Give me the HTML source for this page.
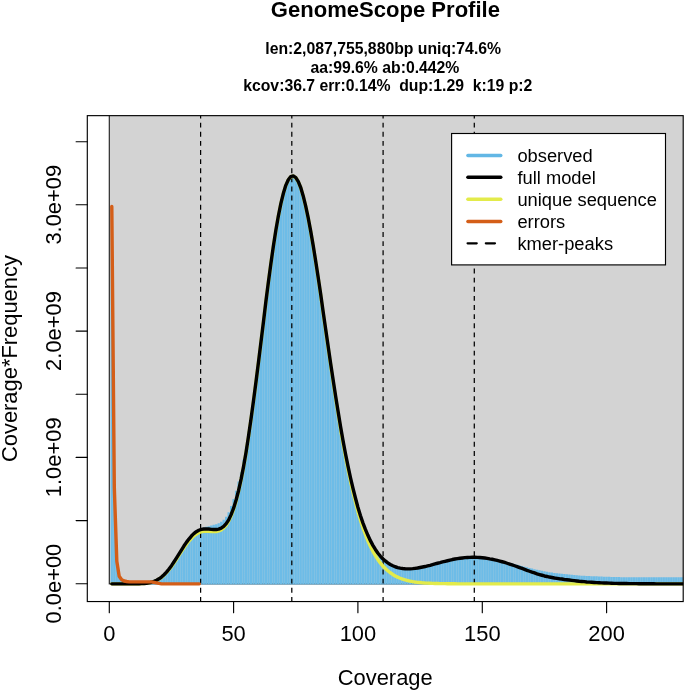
<!DOCTYPE html>
<html lang="en"><head><meta charset="utf-8"><title>GenomeScope Profile</title>
<style>
html,body{margin:0;padding:0;background:#fff;}
svg{display:block;font-family:"Liberation Sans", Arial, Helvetica, sans-serif;}
text{fill:#000;}
.t{font-size:21.9px;}
.h{font-size:22.05px;font-weight:bold;}
.s{font-size:15.78px;font-weight:bold;}
.l{font-size:18.32px;}
</style></head><body>
<svg width="685" height="691" viewBox="0 0 685 691">
<rect x="0" y="0" width="685" height="691" fill="#fff"/>
<defs><clipPath id="c"><rect x="87.3" y="115.65" width="595.9000000000001" height="485.9"/></clipPath></defs>
<g clip-path="url(#c)"><g transform="translate(0,0.25)">
<rect x="109.3" y="0" width="700" height="583.6" fill="#D3D3D3" stroke="#222" stroke-width="1.14"/>
<path d="M111.79,584.2V206.3M114.27,584.2V487.0M116.76,584.2V561.0M119.25,584.2V576.0M121.73,584.2V579.5M124.22,584.2V580.8M126.71,584.2V581.3M129.19,584.2V581.6M131.68,584.2V581.6M134.16,584.2V581.6M136.65,584.2V581.5M139.14,584.2V581.5M141.62,584.2V581.4M144.11,584.2V581.2M146.60,584.2V581.0M149.08,584.2V580.6M151.57,584.2V580.0M154.06,584.2V579.6M156.54,584.2V579.0M159.03,584.2V578.1M161.52,584.2V576.8M164.00,584.2V574.5M166.49,584.2V571.9M168.98,584.2V568.8M171.46,584.2V565.4M173.95,584.2V561.7M176.44,584.2V557.8M178.92,584.2V553.8M181.41,584.2V549.8M183.89,584.2V545.8M186.38,584.2V542.1M188.87,584.2V538.8M191.35,584.2V535.8M193.84,584.2V533.4M196.33,584.2V531.4M198.81,584.2V530.0M201.30,584.2V528.1M203.79,584.2V527.3M206.27,584.2V526.6M208.76,584.2V525.9M211.25,584.2V525.3M213.73,584.2V524.6M216.22,584.2V523.9M218.71,584.2V522.9M221.19,584.2V521.4M223.68,584.2V519.4M226.17,584.2V516.6M228.65,584.2V511.9M231.14,584.2V505.7M233.62,584.2V498.8M236.11,584.2V490.6M238.60,584.2V481.2M241.08,584.2V471.9M243.57,584.2V459.6M246.06,584.2V445.4M248.54,584.2V431.3M251.03,584.2V418.8M253.52,584.2V400.6M256.00,584.2V381.5M258.49,584.2V361.7M260.98,584.2V341.5M263.46,584.2V321.3M265.95,584.2V301.2M268.44,584.2V281.8M270.92,584.2V263.2M273.41,584.2V245.8M275.90,584.2V229.8M278.38,584.2V215.5M280.87,584.2V203.2M283.36,584.2V193.0M285.84,584.2V185.1M288.33,584.2V179.5M290.81,584.2V176.3M293.30,584.2V175.6M295.79,584.2V177.3M298.27,584.2V181.3M300.76,584.2V187.5M303.25,584.2V195.7M305.73,584.2V205.9M308.22,584.2V217.7M310.71,584.2V230.9M313.19,584.2V245.4M315.68,584.2V260.9M318.17,584.2V277.2M320.65,584.2V294.1M323.14,584.2V311.2M325.63,584.2V328.6M328.11,584.2V345.8M330.60,584.2V362.9M333.08,584.2V379.5M335.57,584.2V395.7M338.06,584.2V411.3M340.54,584.2V426.1M343.03,584.2V440.2M345.52,584.2V453.5M348.00,584.2V465.9M350.49,584.2V477.5M352.98,584.2V488.2M355.46,584.2V498.0M357.95,584.2V507.0M360.44,584.2V515.2M362.92,584.2V522.6M365.41,584.2V529.2M367.90,584.2V535.1M370.38,584.2V540.4M372.87,584.2V545.1M375.36,584.2V549.2M377.84,584.2V552.7M380.33,584.2V555.8M382.81,584.2V558.5M385.30,584.2V560.7M387.79,584.2V562.6M390.27,584.2V564.2M392.76,584.2V565.5M395.25,584.2V566.5M397.73,584.2V567.3M400.22,584.2V567.9M402.71,584.2V568.3M405.19,584.2V568.5M407.68,584.2V568.6M410.17,584.2V568.6M412.65,584.2V568.4M415.14,584.2V568.1M417.63,584.2V567.8M420.11,584.2V567.3M422.60,584.2V566.8M425.09,584.2V566.3M427.57,584.2V565.7M430.06,584.2V565.1M432.55,584.2V564.4M435.03,584.2V563.7M437.52,584.2V563.0M440.00,584.2V562.4M442.49,584.2V561.7M444.98,584.2V561.1M447.46,584.2V560.5M449.95,584.2V559.9M452.44,584.2V559.3M454.92,584.2V558.8M457.41,584.2V558.4M459.90,584.2V558.0M462.38,584.2V557.7M464.87,584.2V557.4M467.36,584.2V557.2M469.84,584.2V557.1M472.33,584.2V557.0M474.82,584.2V557.0M477.30,584.2V557.1M479.79,584.2V557.3M482.27,584.2V557.5M484.76,584.2V557.8M487.25,584.2V558.1M489.73,584.2V558.6M492.22,584.2V559.0M494.71,584.2V559.6M497.19,584.2V560.2M499.68,584.2V560.8M502.17,584.2V561.3M504.65,584.2V561.7M507.14,584.2V562.2M509.63,584.2V562.7M512.11,584.2V563.3M514.60,584.2V563.9M517.09,584.2V564.5M519.57,584.2V565.1M522.06,584.2V565.8M524.55,584.2V566.4M527.03,584.2V567.1M529.52,584.2V567.7M532.00,584.2V568.3M534.49,584.2V568.9M536.98,584.2V569.4M539.46,584.2V569.9M541.95,584.2V570.5M544.44,584.2V571.0M546.92,584.2V571.5M549.41,584.2V572.0M551.90,584.2V572.3M554.38,584.2V572.7M556.87,584.2V573.0M559.36,584.2V573.3M561.84,584.2V573.6M564.33,584.2V573.8M566.82,584.2V574.1M569.30,584.2V574.3M571.79,584.2V574.6M574.28,584.2V574.8M576.76,584.2V575.0M579.25,584.2V575.2M581.74,584.2V575.4M584.22,584.2V575.6M586.71,584.2V575.7M589.19,584.2V575.8M591.68,584.2V576.0M594.17,584.2V576.1M596.65,584.2V576.1M599.14,584.2V576.2M601.63,584.2V576.3M604.11,584.2V576.4M606.60,584.2V576.5M609.09,584.2V576.6M611.57,584.2V576.7M614.06,584.2V576.7M616.55,584.2V576.8M619.03,584.2V576.8M621.52,584.2V576.9M624.01,584.2V576.9M626.49,584.2V576.9M628.98,584.2V577.0M631.46,584.2V577.0M633.95,584.2V577.0M636.44,584.2V577.0M638.92,584.2V577.0M641.41,584.2V577.0M643.90,584.2V577.1M646.38,584.2V577.1M648.87,584.2V577.1M651.36,584.2V577.1M653.84,584.2V577.1M656.33,584.2V577.1M658.82,584.2V577.1M661.30,584.2V577.1M663.79,584.2V577.1M666.28,584.2V577.1M668.76,584.2V577.0M671.25,584.2V577.0M673.74,584.2V577.0M676.22,584.2V577.0M678.71,584.2V577.0M681.19,584.2V577.0M683.68,584.2V577.0M686.17,584.2V577.0M688.65,584.2V577.0M691.14,584.2V577.0M693.63,584.2V577.0" stroke="#6DBCE7" stroke-width="2.3" fill="none"/>
<line x1="200.6" x2="200.6" y1="601.55" y2="112.65" stroke="#000" stroke-width="1.25" stroke-dasharray="4.9 4.22"/>
<line x1="291.8" x2="291.8" y1="601.55" y2="112.65" stroke="#000" stroke-width="1.25" stroke-dasharray="4.9 4.22"/>
<line x1="383.1" x2="383.1" y1="601.55" y2="112.65" stroke="#000" stroke-width="1.25" stroke-dasharray="4.9 4.22"/>
<line x1="474.3" x2="474.3" y1="601.55" y2="112.65" stroke="#000" stroke-width="1.25" stroke-dasharray="4.9 4.22"/>
<path d="M111.8,583.6 L114.3,583.6 L116.8,583.6 L119.2,583.6 L121.7,583.6 L124.2,583.6 L126.7,583.6 L129.2,583.6 L131.7,583.6 L134.2,583.6 L136.7,583.5 L139.1,583.5 L141.6,583.4 L144.1,583.2 L146.6,583.0 L149.1,582.6 L151.6,582.0 L154.1,581.3 L156.5,580.2 L159.0,578.8 L161.5,577.1 L164.0,574.9 L166.5,572.4 L169.0,569.5 L171.5,566.3 L173.9,562.7 L176.4,559.0 L178.9,555.1 L181.4,551.3 L183.9,547.5 L186.4,544.0 L188.9,540.8 L191.4,538.0 L193.8,535.6 L196.3,533.8 L198.8,532.4 L201.3,531.5 L203.8,531.1 L206.3,530.9 L208.8,531.0 L211.2,531.2 L213.7,531.4 L216.2,531.3 L218.7,530.7 L221.2,529.6 L223.7,527.7 L226.2,524.8 L228.7,520.8 L231.1,515.6 L233.6,508.9 L236.1,500.7 L238.6,491.0 L241.1,479.6 L243.6,466.7 L246.1,452.3 L248.5,436.4 L251.0,419.2 L253.5,400.9 L256.0,381.7 L258.5,361.9 L261.0,341.7 L263.5,321.4 L265.9,301.4 L268.4,281.9 L270.9,263.3 L273.4,245.9 L275.9,229.9 L278.4,215.6 L280.9,203.3 L283.4,193.1 L285.8,185.2 L288.3,179.6 L290.8,176.5 L293.3,175.8 L295.8,177.5 L298.3,181.6 L300.8,187.8 L303.2,196.1 L305.7,206.3 L308.2,218.2 L310.7,231.6 L313.2,246.2 L315.7,261.8 L318.2,278.2 L320.7,295.2 L323.1,312.5 L325.6,330.0 L328.1,347.4 L330.6,364.6 L333.1,381.5 L335.6,397.8 L338.1,413.6 L340.5,428.7 L343.0,443.0 L345.5,456.5 L348.0,469.2 L350.5,481.0 L353.0,491.9 L355.5,502.0 L357.9,511.3 L360.4,519.7 L362.9,527.3 L365.4,534.2 L367.9,540.5 L370.4,546.0 L372.9,551.0 L375.4,555.4 L377.8,559.2 L380.3,562.7 L382.8,565.7 L385.3,568.3 L387.8,570.5 L390.3,572.5 L392.8,574.2 L395.2,575.7 L397.7,576.9 L400.2,578.0 L402.7,578.9 L405.2,579.7 L407.7,580.3 L410.2,580.9 L412.7,581.4 L415.1,581.8 L417.6,582.1 L420.1,582.3 L422.6,582.6 L425.1,582.8 L427.6,582.9 L430.1,583.0 L432.5,583.1 L435.0,583.2 L437.5,583.3 L440.0,583.4 L442.5,583.4 L445.0,583.4 L447.5,583.5 L450.0,583.5 L452.4,583.5 L454.9,583.5 L457.4,583.6 L459.9,583.6 L462.4,583.6 L464.9,583.6 L467.4,583.6 L469.8,583.6 L472.3,583.6 L474.8,583.6 L477.3,583.6 L479.8,583.6 L482.3,583.6 L484.8,583.6 L487.2,583.6 L489.7,583.6 L492.2,583.6 L494.7,583.6 L497.2,583.6 L499.7,583.6 L502.2,583.6 L504.7,583.6 L507.1,583.6 L509.6,583.6 L512.1,583.6 L514.6,583.6 L517.1,583.6 L519.6,583.6 L522.1,583.6 L524.5,583.6 L527.0,583.6 L529.5,583.6 L532.0,583.6 L534.5,583.6 L537.0,583.6 L539.5,583.6 L542.0,583.6 L544.4,583.6 L546.9,583.6 L549.4,583.6 L551.9,583.6 L554.4,583.6 L556.9,583.6 L559.4,583.6 L561.8,583.6 L564.3,583.6 L566.8,583.6 L569.3,583.6 L571.8,583.6 L574.3,583.6 L576.8,583.6 L579.2,583.6 L581.7,583.6 L584.2,583.6 L586.7,583.6 L589.2,583.6 L591.7,583.6 L594.2,583.6 L596.7,583.6 L599.1,583.6 L601.6,583.6 L604.1,583.6 L606.6,583.6 L609.1,583.6 L611.6,583.6 L614.1,583.6 L616.5,583.6 L619.0,583.6 L621.5,583.6 L624.0,583.6 L626.5,583.6 L629.0,583.6 L631.5,583.6 L634.0,583.6 L636.4,583.6 L638.9,583.6 L641.4,583.6 L643.9,583.6 L646.4,583.6 L648.9,583.6 L651.4,583.6 L653.8,583.6 L656.3,583.6 L658.8,583.6 L661.3,583.6 L663.8,583.6 L666.3,583.6 L668.8,583.6 L671.2,583.6 L673.7,583.6 L676.2,583.6 L678.7,583.6 L681.2,583.6 L683.7,583.6 L686.2,583.6 L688.7,583.6 L691.1,583.6 L693.6,583.6" stroke="#E3EB4A" stroke-width="3.42" fill="none" stroke-linejoin="round" stroke-linecap="round"/>
<path d="M111.8,583.6 L114.3,583.6 L116.8,583.6 L119.2,583.6 L121.7,583.6 L124.2,583.6 L126.7,583.6 L129.2,583.6 L131.7,583.6 L134.2,583.6 L136.7,583.5 L139.1,583.5 L141.6,583.4 L144.1,583.2 L146.6,583.0 L149.1,582.6 L151.6,582.0 L154.1,581.1 L156.5,580.0 L159.0,578.6 L161.5,576.8 L164.0,574.5 L166.5,571.9 L169.0,568.8 L171.5,565.4 L173.9,561.7 L176.4,557.8 L178.9,553.8 L181.4,549.8 L183.9,545.8 L186.4,542.1 L188.9,538.8 L191.4,535.8 L193.8,533.4 L196.3,531.4 L198.8,530.0 L201.3,529.1 L203.8,528.7 L206.3,528.6 L208.8,528.8 L211.2,529.1 L213.7,529.3 L216.2,529.3 L218.7,528.9 L221.2,527.9 L223.7,526.1 L226.2,523.4 L228.7,519.6 L231.1,514.4 L233.6,507.9 L236.1,499.8 L238.6,490.2 L241.1,478.9 L243.6,466.1 L246.1,451.7 L248.5,435.9 L251.0,418.8 L253.5,400.6 L256.0,381.5 L258.5,361.7 L261.0,341.5 L263.5,321.3 L265.9,301.2 L268.4,281.8 L270.9,263.2 L273.4,245.8 L275.9,229.8 L278.4,215.5 L280.9,203.2 L283.4,193.0 L285.8,185.1 L288.3,179.5 L290.8,176.3 L293.3,175.6 L295.8,177.3 L298.3,181.3 L300.8,187.5 L303.2,195.7 L305.7,205.9 L308.2,217.7 L310.7,230.9 L313.2,245.4 L315.7,260.9 L318.2,277.2 L320.7,294.1 L323.1,311.2 L325.6,328.6 L328.1,345.8 L330.6,362.9 L333.1,379.5 L335.6,395.7 L338.1,411.3 L340.5,426.1 L343.0,440.2 L345.5,453.5 L348.0,465.9 L350.5,477.5 L353.0,488.2 L355.5,498.0 L357.9,507.0 L360.4,515.2 L362.9,522.6 L365.4,529.2 L367.9,535.1 L370.4,540.4 L372.9,545.1 L375.4,549.2 L377.8,552.7 L380.3,555.8 L382.8,558.5 L385.3,560.7 L387.8,562.6 L390.3,564.2 L392.8,565.5 L395.2,566.5 L397.7,567.3 L400.2,567.9 L402.7,568.3 L405.2,568.5 L407.7,568.6 L410.2,568.6 L412.7,568.4 L415.1,568.1 L417.6,567.8 L420.1,567.3 L422.6,566.8 L425.1,566.3 L427.6,565.7 L430.1,565.1 L432.5,564.4 L435.0,563.7 L437.5,563.0 L440.0,562.4 L442.5,561.7 L445.0,561.1 L447.5,560.5 L450.0,559.9 L452.4,559.3 L454.9,558.8 L457.4,558.4 L459.9,558.0 L462.4,557.7 L464.9,557.4 L467.4,557.2 L469.8,557.1 L472.3,557.0 L474.8,557.0 L477.3,557.1 L479.8,557.3 L482.3,557.5 L484.8,557.8 L487.2,558.1 L489.7,558.6 L492.2,559.0 L494.7,559.6 L497.2,560.2 L499.7,560.8 L502.2,561.5 L504.7,562.2 L507.1,563.0 L509.6,563.8 L512.1,564.6 L514.6,565.5 L517.1,566.4 L519.6,567.3 L522.1,568.2 L524.5,569.1 L527.0,570.1 L529.5,571.0 L532.0,571.9 L534.5,572.7 L537.0,573.6 L539.5,574.3 L542.0,575.0 L544.4,575.7 L546.9,576.2 L549.4,576.8 L551.9,577.2 L554.4,577.7 L556.9,578.1 L559.4,578.5 L561.8,578.8 L564.3,579.2 L566.8,579.5 L569.3,579.8 L571.8,580.1 L574.3,580.4 L576.8,580.7 L579.2,581.0 L581.7,581.2 L584.2,581.4 L586.7,581.7 L589.2,581.9 L591.7,582.0 L594.2,582.2 L596.7,582.4 L599.1,582.5 L601.6,582.6 L604.1,582.7 L606.6,582.8 L609.1,582.9 L611.6,583.0 L614.1,583.1 L616.5,583.1 L619.0,583.2 L621.5,583.2 L624.0,583.3 L626.5,583.3 L629.0,583.4 L631.5,583.4 L634.0,583.4 L636.4,583.4 L638.9,583.5 L641.4,583.5 L643.9,583.5 L646.4,583.5 L648.9,583.5 L651.4,583.5 L653.8,583.5 L656.3,583.6 L658.8,583.6 L661.3,583.6 L663.8,583.6 L666.3,583.6 L668.8,583.6 L671.2,583.6 L673.7,583.6 L676.2,583.6 L678.7,583.6 L681.2,583.6 L683.7,583.6 L686.2,583.6 L688.7,583.6 L691.1,583.6 L693.6,583.6" stroke="#000" stroke-width="3.42" fill="none" stroke-linejoin="round" stroke-linecap="round"/>
<path d="M111.8,206.3 L114.3,487.0 L116.8,561.0 L119.2,576.0 L121.7,579.5 L124.2,580.8 L126.7,581.3 L129.2,581.6 L131.7,581.6 L134.2,581.6 L136.7,581.6 L139.1,581.6 L141.6,581.6 L144.1,581.6 L146.6,581.6 L149.1,581.6 L151.6,581.6 L154.1,582.1 L156.5,582.6 L159.0,583.1 L161.5,583.6 L164.0,583.6 L166.5,583.6 L169.0,583.6 L171.5,583.6 L173.9,583.6 L176.4,583.6 L178.9,583.6 L181.4,583.6 L183.9,583.6 L186.4,583.6 L188.9,583.6 L191.4,583.6 L193.8,583.6 L196.3,583.6 L198.8,583.6 L199.3,583.6" stroke="#D45E18" stroke-width="3.42" fill="none" stroke-linejoin="round" stroke-linecap="round"/>
</g></g>
<rect x="87.3" y="115.65" width="595.9000000000001" height="485.9" fill="none" stroke="#000" stroke-width="1.14"/>
<path d="M109.3,601.55v11.2M233.6,601.55v11.2M357.9,601.55v11.2M482.3,601.55v11.2M606.6,601.55v11.2M87.3,583.7h-11.2M87.3,520.6h-11.2M87.3,457.4h-11.2M87.3,394.3h-11.2M87.3,331.1h-11.2M87.3,268.0h-11.2M87.3,204.8h-11.2M87.3,141.7h-11.2" stroke="#000" stroke-width="1.14" fill="none" stroke-linecap="round"/>
<text class="t" x="109.3" y="641.3" text-anchor="middle">0</text>
<text class="t" x="233.6" y="641.3" text-anchor="middle">50</text>
<text class="t" x="357.9" y="641.3" text-anchor="middle">100</text>
<text class="t" x="482.3" y="641.3" text-anchor="middle">150</text>
<text class="t" x="606.6" y="641.3" text-anchor="middle">200</text>
<text class="t" transform="translate(61.2,583.6) rotate(-90)" text-anchor="middle">0.0e+00</text>
<text class="t" transform="translate(61.2,457.3) rotate(-90)" text-anchor="middle">1.0e+09</text>
<text class="t" transform="translate(61.2,331.0) rotate(-90)" text-anchor="middle">2.0e+09</text>
<text class="t" transform="translate(61.2,204.7) rotate(-90)" text-anchor="middle">3.0e+09</text>
<text class="t" x="385.2" y="685" text-anchor="middle">Coverage</text>
<text class="t" transform="translate(16.9,358.6) rotate(-90)" text-anchor="middle">Coverage*Frequency</text>
<text class="h" x="385.4" y="17.2" text-anchor="middle">GenomeScope Profile</text>
<text class="s" x="383.2" y="54.4" text-anchor="middle">len:2,087,755,880bp uniq:74.6%</text>
<text class="s" x="384.9" y="72.8" text-anchor="middle">aa:99.6% ab:0.442%</text>
<text class="s" x="387.8" y="91.1" text-anchor="middle" xml:space="preserve" style="white-space:pre">kcov:36.7 err:0.14%  dup:1.29  k:19 p:2</text>
<rect x="451.6" y="133.5" width="213.9" height="131.4" fill="#fff" stroke="#000" stroke-width="1.14"/>
<line x1="467.9" x2="500.8" y1="155.5" y2="155.5" stroke="#62B7E5" stroke-width="3.42" stroke-linecap="round"/>
<line x1="467.9" x2="500.8" y1="177.3" y2="177.3" stroke="#000" stroke-width="3.42" stroke-linecap="round"/>
<line x1="467.9" x2="500.8" y1="199.3" y2="199.3" stroke="#E3EB4A" stroke-width="3.42" stroke-linecap="round"/>
<line x1="467.9" x2="500.8" y1="221.5" y2="221.5" stroke="#D45E18" stroke-width="3.42" stroke-linecap="round"/>
<line x1="467.6" x2="500.8" y1="243.3" y2="243.3" stroke="#000" stroke-width="2.28" stroke-dasharray="9.12 9.12" stroke-linecap="round"/>
<text class="l" x="517.4" y="162.2">observed</text>
<text class="l" x="517.4" y="184.0">full model</text>
<text class="l" x="517.4" y="205.9">unique sequence</text>
<text class="l" x="517.4" y="227.8">errors</text>
<text class="l" x="517.4" y="249.5">kmer-peaks</text>
</svg>
</body></html>
